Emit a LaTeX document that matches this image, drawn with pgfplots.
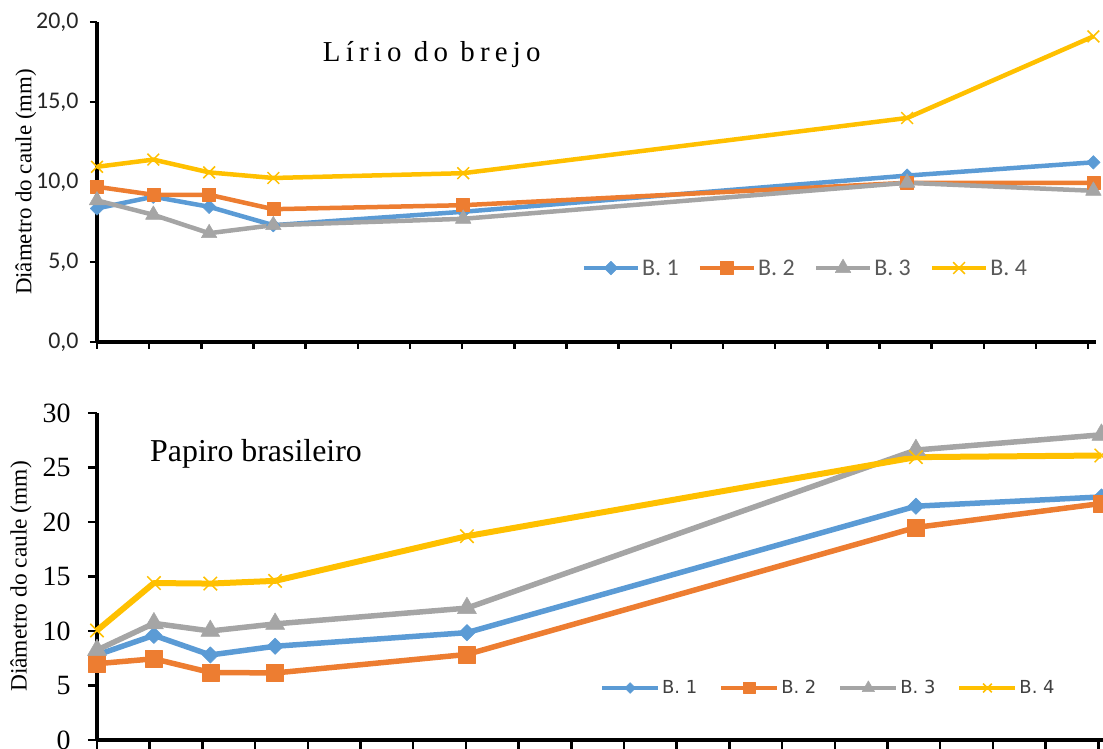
\documentclass[border=0pt]{standalone}
\usepackage{fontspec}
\setmainfont{Liberation Serif}
\newfontfamily\carlito{Carlito}
\newfontfamily\legsans{DejaVu Sans}
\usepackage{pgfplots}
\pgfplotsset{compat=1.18}
\definecolor{cBa}{HTML}{5B9BD5}
\definecolor{cBb}{HTML}{ED7D31}
\definecolor{cBc}{HTML}{A5A5A5}
\definecolor{cBd}{HTML}{FFC000}
\begin{document}
\begin{tikzpicture}
\useasboundingbox (0,0) rectangle (1103bp,749bp);
% ---------- top panel ----------
\begin{axis}[
  at={(97bp,407bp)}, anchor=south west,
  scale only axis, width=999bp, height=320bp,
  xmin=0, xmax=19.15, ymin=0, ymax=20,
  xtick={0,1,...,19}, xticklabels={},
  ytick={0,5,...,20},
  axis lines*=left,
  axis line style={line width=3.5bp, black},
  tick align=outside, major tick length=7bp,
  every tick/.style={black, line width=2.5bp},
  clip=false,
  yticklabel style={font=\carlito\fontsize{24}{24}\selectfont, text=black!85, xshift=-8bp},
  /pgf/number format/.cd, fixed, fixed zerofill, precision=1, use comma, assume math mode=true,
  /pgfplots/.cd,
  ylabel={Diâmetro do caule (mm)},
  ylabel style={font=\fontsize{23}{23}\selectfont, at={(axis description cs:-0.0711,0.5)}, anchor=center},
  legend columns=4,
  legend style={draw=none, fill=none, at={(axis description cs:0.709,0.231)}, anchor=center,
    font=\carlito\fontsize{24}{24}\selectfont, text=black!65,
    /tikz/every even column/.append style={column sep=17bp}},
  legend image code/.code={\draw[mark repeat=2,mark phase=2,#1] plot coordinates {(0bp,0bp) (27bp,0bp) (54bp,0bp)};},
  every axis plot/.append style={line join=round},
]
\addplot[color=cBa, line width=4.5bp, mark=square*, mark size=4.8bp, mark options={rotate=45, line width=0.5bp}]
  coordinates {(0,8.35) (1.08,9.08) (2.15,8.45) (3.38,7.3) (7.02,8.14) (15.53,10.4) (19.1,11.23)};
\addlegendentry{B. 1}
\addplot[color=cBb, line width=4.5bp, mark=square*, mark size=6.5bp, mark options={line width=0.5bp}]
  coordinates {(0,9.7) (1.08,9.2) (2.15,9.2) (3.38,8.3) (7.02,8.55) (15.53,9.95) (19.1,9.95)};
\addlegendentry{B. 2}
\addplot[color=cBc, line width=4.5bp, mark=triangle*, mark size=9bp, mark options={line width=0.5bp}]
  coordinates {(0,8.85) (1.08,7.95) (2.15,6.8) (3.38,7.3) (7.02,7.7) (15.53,9.95) (19.1,9.45)};
\addlegendentry{B. 3}
\addplot[color=cBd, line width=4.5bp, mark=x, mark size=8.3bp, mark options={line width=1.5bp}]
  coordinates {(0,10.95) (1.08,11.4) (2.15,10.6) (3.38,10.25) (7.02,10.55) (15.53,14.0) (19.1,19.1)};
\addlegendentry{B. 4}
\node[anchor=base west, inner sep=0pt] at (axis description cs:0.226,0.875)
  {\fontsize{29}{29}\selectfont\addfontfeatures{LetterSpace=18}Lírio do brejo};
\end{axis}
% ---------- bottom panel ----------
\begin{axis}[
  at={(97bp,9bp)}, anchor=south west,
  scale only axis, width=1006bp, height=327bp,
  xmin=0, xmax=19.09, ymin=0, ymax=30,
  xtick={0,1,...,19}, xticklabels={},
  ytick={0,5,...,30},
  axis lines*=left,
  axis line style={line width=3.5bp, black},
  tick align=outside, major tick length=9bp,
  every tick/.style={black, line width=2.5bp},
  clip=false,
  yticklabel style={font=\fontsize{28}{28}\selectfont, xshift=-14bp},
  /pgf/number format/assume math mode=true,
  ylabel={Diâmetro do caule (mm)},
  ylabel style={font=\fontsize{23.5}{23.5}\selectfont, at={(axis description cs:-0.0755,0.5)}, anchor=center},
  legend columns=4,
  legend style={draw=none, fill=white, at={(axis description cs:0.727,0.159)}, anchor=center,
    font=\legsans\fontsize{18}{18}\selectfont, text=black!75,
    /tikz/every even column/.append style={column sep=20bp}},
  legend image code/.code={\draw[mark repeat=2,mark phase=2,#1, line width=4bp, every mark/.append style={scale=0.65}] plot coordinates {(0bp,0bp) (28bp,0bp) (56bp,0bp)};},
  every axis plot/.append style={line join=round},
]
\addplot[color=cBa, line width=5.5bp, mark=square*, mark size=5.8bp, mark options={rotate=45, line width=0.5bp}]
  coordinates {(0,7.8) (1.08,9.6) (2.15,7.8) (3.38,8.6) (7.02,9.85) (15.54,21.45) (19.06,22.3)};
\addlegendentry{B. 1}
\addplot[color=cBb, line width=5.5bp, mark=square*, mark size=8.5bp, mark options={line width=0.5bp}]
  coordinates {(0,7.0) (1.08,7.45) (2.15,6.2) (3.38,6.15) (7.02,7.85) (15.54,19.5) (19.06,21.7)};
\addlegendentry{B. 2}
\addplot[color=cBc, line width=5.5bp, mark=triangle*, mark size=11bp, mark options={line width=0.5bp}]
  coordinates {(0,8.25) (1.08,10.7) (2.15,10.0) (3.38,10.65) (7.02,12.1) (15.54,26.6) (19.06,28.0)};
\addlegendentry{B. 3}
\addplot[color=cBd, line width=6bp, mark=x, mark size=9.5bp, mark options={line width=1.5bp}]
  coordinates {(0,10.05) (1.08,14.4) (2.15,14.35) (3.38,14.6) (7.02,18.7) (15.54,25.95) (19.06,26.1)};
\addlegendentry{B. 4}
\node[anchor=base west, inner sep=0pt] at (axis description cs:0.0527,0.851)
  {\fontsize{32}{32}\selectfont Papiro brasileiro};
\end{axis}
\end{tikzpicture}
\end{document}
